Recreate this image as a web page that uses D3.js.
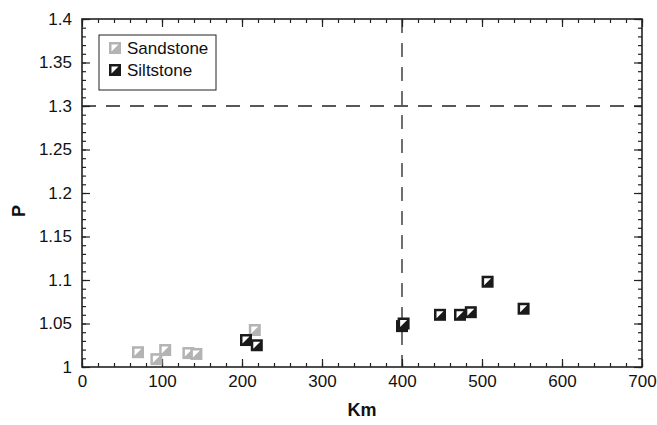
<!DOCTYPE html>
<html>
<head>
<meta charset="utf-8">
<script src="https://cdn.jsdelivr.net/npm/d3@7"></script>
<style>
  body { margin: 0; background: #fff; }
  svg { display: block; font-family: "Liberation Sans", Arial, sans-serif; }
</style>
</head>
<body>
<svg id="chart" width="657" height="425"></svg>
<script>
// Sandstone samples: distance (Km) and P
const sandKm = [70, 93, 104, 133, 143, 216];
const sandP  = [1.017, 1.009, 1.0195, 1.016, 1.015, 1.0425];
// Siltstone samples
const siltKm = [205, 218.5, 400, 402, 447.5, 472.5, 486, 507, 552];
const siltP  = [1.031, 1.025, 1.047, 1.05, 1.060, 1.060, 1.063, 1.098, 1.067];

const xTicks = [0, 100, 200, 300, 400, 500, 600, 700];
const yTicks = [1, 1.05, 1.1, 1.15, 1.2, 1.25, 1.3, 1.35, 1.4];
const refKm = 400;   // vertical reference line
const refP = 1.3;    // horizontal reference line

const seriesNames = ["Sandstone", "Siltstone"];
const seriesColors = ["#b3b3b3", "#1a1a1a"];

const margin = { left: 82, right: 15, top: 19, bottom: 58 };
const W = 657, H = 425;
const svg = d3.select("#chart");

const x = d3.scaleLinear().domain([0, 700]).range([margin.left, W - margin.right]);
const y = d3.scaleLinear().domain([1, 1.4]).range([H - margin.bottom, margin.top]);

const x0 = x.range()[0], x1 = x.range()[1];
const y0 = y.range()[0], y1 = y.range()[1];
const ink = "#222";
const font = "'Liberation Sans', Arial, sans-serif";

// minor and major ticks, pointing inward on all four sides
function tickSet(axisGen, tickVals, size, transform) {
  const g = svg.append("g").attr("transform", transform)
    .call(axisGen.tickValues(tickVals).tickSize(size).tickFormat(""));
  g.select(".domain").remove();
  g.selectAll("line").attr("stroke", ink).attr("stroke-width", 1.2);
  return g;
}
const xMinor = d3.range(0, 701, 20);
const yMinor = d3.range(0, 41, 1).map(i => 1 + i * 0.01);

tickSet(d3.axisTop(x), xMinor, 4, `translate(0,${y0})`);
tickSet(d3.axisTop(x), xTicks, 8, `translate(0,${y0})`);
tickSet(d3.axisBottom(x), xMinor, 4, `translate(0,${y1})`);
tickSet(d3.axisBottom(x), xTicks, 8, `translate(0,${y1})`);
tickSet(d3.axisRight(y), yMinor, 4, `translate(${x0},0)`);
tickSet(d3.axisRight(y), yTicks, 8, `translate(${x0},0)`);
tickSet(d3.axisLeft(y), yMinor, 4, `translate(${x1},0)`);
tickSet(d3.axisLeft(y), yTicks, 8, `translate(${x1},0)`);

// tick labels
const xLab = svg.append("g").attr("transform", `translate(0,${y0})`)
  .call(d3.axisBottom(x).tickValues(xTicks).tickSize(0).tickPadding(8).tickFormat(d3.format("d")));
xLab.select(".domain").remove();
xLab.selectAll("text").attr("font-size", 17).attr("fill", "#111").attr("font-family", font);

const yLab = svg.append("g").attr("transform", `translate(${x0},0)`)
  .call(d3.axisLeft(y).tickValues(yTicks).tickSize(0).tickPadding(10).tickFormat(d => String(+d.toFixed(2))));
yLab.select(".domain").remove();
yLab.selectAll("text").attr("font-size", 17).attr("fill", "#111").attr("font-family", font);

// frame
svg.append("rect").attr("x", x0).attr("y", y1).attr("width", x1 - x0).attr("height", y0 - y1)
  .attr("fill", "none").attr("stroke", ink).attr("stroke-width", 1.6);

// reference lines
svg.append("line").attr("x1", x(refKm)).attr("x2", x(refKm)).attr("y1", y1).attr("y2", y0)
  .attr("stroke", ink).attr("stroke-width", 1.3).attr("stroke-dasharray", "14,10");
svg.append("line").attr("x1", x0).attr("x2", x1).attr("y1", y(refP)).attr("y2", y(refP))
  .attr("stroke", ink).attr("stroke-width", 1.3).attr("stroke-dasharray", "14,10");

// half-filled square marker: coloured square with a white upper-left triangle
const S = 12;
function marker(g, cx, cy, color) {
  const h = S / 2, b = 2.5;
  g.append("rect").attr("x", cx - h).attr("y", cy - h).attr("width", S).attr("height", S)
    .attr("fill", color);
  g.append("path")
    .attr("d", `M${cx - h + b},${cy - h + b} L${cx + h - b},${cy - h + b} L${cx - h + b},${cy + h - b} Z`)
    .attr("fill", "#fff");
}

const pts = svg.append("g");
sandKm.forEach((k, i) => marker(pts, x(k), y(sandP[i]), seriesColors[0]));
siltKm.forEach((k, i) => marker(pts, x(k), y(siltP[i]), seriesColors[1]));

// legend
const lg = svg.append("g");
lg.append("rect").attr("x", 99).attr("y", 35).attr("width", 117).attr("height", 55)
  .attr("fill", "#fff").attr("stroke", ink).attr("stroke-width", 1);
seriesNames.forEach((n, i) => {
  const ly = 48 + i * 22;
  marker(lg, 115, ly, seriesColors[i]);
  lg.append("text").attr("x", 127).attr("y", ly + 6).attr("font-size", 17)
    .attr("font-family", font).attr("fill", "#111").text(n);
});

// axis titles
svg.append("text").attr("x", (x0 + x1) / 2).attr("y", 416).attr("text-anchor", "middle")
  .attr("font-size", 18).attr("font-weight", "bold").attr("font-family", font).attr("fill", "#111").text("Km");
svg.append("text").attr("transform", `translate(25,${(y0 + y1) / 2 + 18}) rotate(-90)`)
  .attr("text-anchor", "middle").attr("font-size", 18).attr("font-weight", "bold")
  .attr("font-family", font).attr("fill", "#111").text("P");
</script>
</body>
</html>
